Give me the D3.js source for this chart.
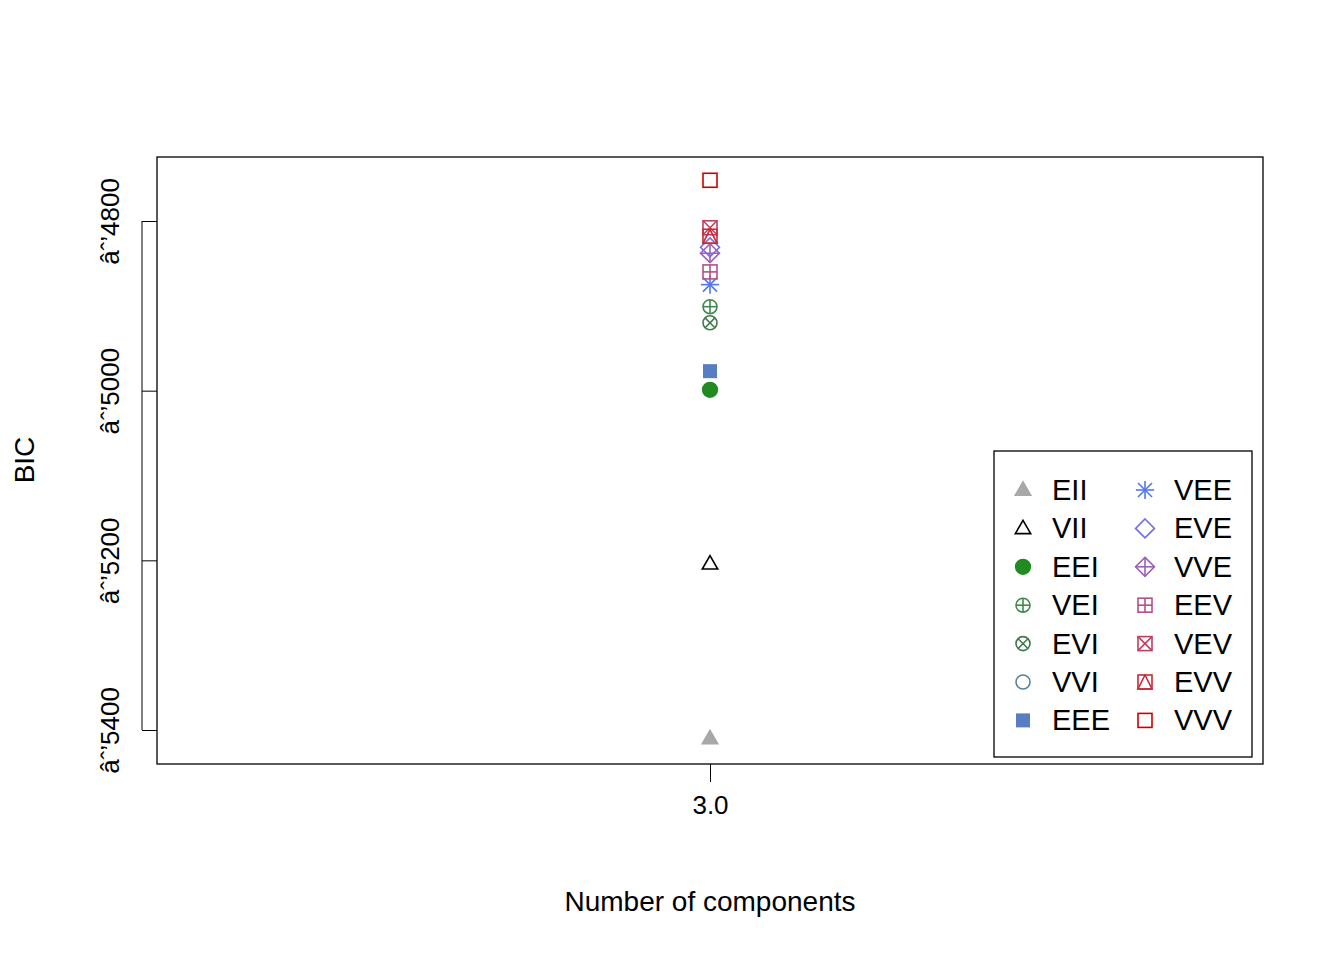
<!DOCTYPE html><html><head><script src="https://cdn.jsdelivr.net/npm/d3@7"></script>
<style>body{margin:0;background:#fff}text{font-family:"Liberation Sans",Arial,sans-serif}</style></head><body>
<svg id="c" width="1344" height="960"></svg>
<script>
const models=["EII","VII","EEI","VEI","EVI","VVI","EEE","VEE","EVE","VVE","EEV","VEV","EVV","VVV"];
const bic=[-5410,-5204,-4999,-4901,-4920,null,-4977,-4875,-4831,-4838,-4860,-4808,-4818,-4752];
const colors=["#A8A8A8","#000000","#218B21","#41884F","#3F7A4A","#58819C","#597DC3","#5178EA","#716EE7","#9B60B8","#B2508B","#C03F60","#C82A36","#CC0000"];
const pchs=[17,2,16,10,13,1,15,8,5,9,12,7,14,0];
const yTicks=[-4800,-5000,-5200,-5400];
const xTicks=[3];
const svg=d3.select("#c");
const L=157,R=1263,T=157,B=764;
const y=d3.scaleLinear().domain([-4800,-5400]).range([221,730]);
const x=d3.scaleLinear().domain([2.6,3.4]).range([L,R]);
function sym(g,p,col,s){
  const h=s;const sw=1.6;
  const line=(a,b,c,d)=>g.append("line").attr("x1",a).attr("y1",b).attr("x2",c).attr("y2",d).attr("stroke",col).attr("stroke-width",sw);
  const sq=()=>g.append("rect").attr("x",-h).attr("y",-h).attr("width",2*h).attr("height",2*h).attr("fill","none").attr("stroke",col).attr("stroke-width",sw);
  const tri=(fill)=>g.append("path").attr("d",`M0,${-h*1.15}L${h*1.1},${h*0.75}L${-h*1.1},${h*0.75}Z`).attr("fill",fill?col:"none").attr("stroke",col).attr("stroke-width",sw);
  const circ=(fill,r)=>g.append("circle").attr("r",r||h).attr("fill",fill?col:"none").attr("stroke",col).attr("stroke-width",sw);
  const dia=()=>g.append("path").attr("d",`M0,${-h*1.35}L${h*1.35},0L0,${h*1.35}L${-h*1.35},0Z`).attr("fill","none").attr("stroke",col).attr("stroke-width",sw);
  switch(p){
    case 17:tri(true);break;case 2:tri(false);break;
    case 16:circ(true,h*1.05);break;case 1:circ(false);break;
    case 10:circ(false);line(-h,0,h,0);line(0,-h,0,h);break;
    case 13:circ(false);line(-h*.7,-h*.7,h*.7,h*.7);line(-h*.7,h*.7,h*.7,-h*.7);break;
    case 15:g.append("rect").attr("x",-h).attr("y",-h).attr("width",2*h).attr("height",2*h).attr("fill",col);break;
    case 8:line(-h*1.3,0,h*1.3,0);line(0,-h*1.3,0,h*1.3);line(-h,-h,h,h);line(-h,h,h,-h);break;
    case 5:dia();break;
    case 9:dia();line(-h*1.35,0,h*1.35,0);line(0,-h*1.35,0,h*1.35);break;
    case 12:sq();line(-h,0,h,0);line(0,-h,0,h);break;
    case 7:sq();line(-h,-h,h,h);line(-h,h,h,-h);break;
    case 14:sq();g.append("path").attr("d",`M0,${-h}L${h},${h}L${-h},${h}Z`).attr("fill","none").attr("stroke",col).attr("stroke-width",sw);break;
    case 0:sq();break;
  }
}
svg.append("rect").attr("x",L).attr("y",T).attr("width",R-L).attr("height",B-T).attr("fill","none").attr("stroke","#000").attr("stroke-width",1.3);
const ya=svg.append("g").attr("transform",`translate(${L},0)`).call(d3.axisLeft(y).tickValues(yTicks).tickSize(15).tickPadding(14).tickFormat(d3.format("d")));
ya.select(".domain").attr("d",`M-15,${y(-4800)}H0M-15,${y(-5400)}`).attr("d",null);
ya.select(".domain").remove();
svg.append("line").attr("x1",L-15).attr("x2",L-15).attr("y1",y(-4800)).attr("y2",y(-5400)).attr("stroke","#000");
ya.selectAll(".tick line").attr("x1",-15).attr("x2",0);
ya.selectAll(".tick text").attr("font-size",26).attr("transform",function(d){return `rotate(-90,${-40},${y(d)})`}).attr("x",-40).attr("y",0).attr("dy","0.35em").style("text-anchor","middle");
ya.selectAll(".tick").each(function(d){d3.select(this).select("text").attr("transform",`rotate(-90) translate(0,0)`).attr("x",0).attr("y",-38).attr("dy",0).attr("text-anchor","middle");});
ya.attr("font-family",null);
const xa=svg.append("g").attr("transform",`translate(0,${B})`).call(d3.axisBottom(x).tickValues(xTicks).tickSize(18).tickPadding(14));
xa.select(".domain").remove();xa.attr("font-family",null);
xa.selectAll(".tick text").attr("font-size",26);
svg.append("text").attr("x",710).attr("y",911).attr("text-anchor","middle").attr("font-size",28).text("Number of components");
svg.append("text").attr("transform","translate(34,460) rotate(-90)").attr("text-anchor","middle").attr("font-size",28).text("BIC");
models.forEach((m,i)=>{if(bic[i]==null)return;sym(svg.append("g").attr("transform",`translate(${x(3)},${y(bic[i])})`),pchs[i],colors[i],7);});
svg.append("rect").attr("x",994).attr("y",451).attr("width",258).attr("height",306).attr("fill","#fff").attr("stroke","#000").attr("stroke-width",1.3);
models.forEach((m,i)=>{const c=Math.floor(i/7),r=i%7;const yy=490+r*38.4;const sx=c?1145:1023;
  sym(svg.append("g").attr("transform",`translate(${sx},${yy})`),pchs[i],colors[i],7);
  svg.append("text").attr("x",sx+29).attr("y",yy+10).attr("font-size",29).text(m);});
</script></body></html>
